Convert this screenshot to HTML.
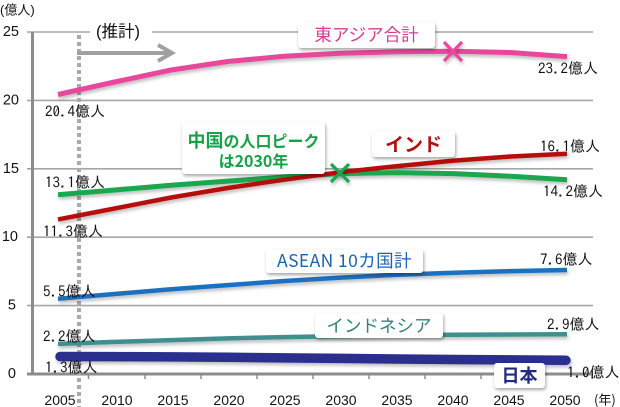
<!DOCTYPE html>
<html><head><meta charset="utf-8">
<style>
html,body{margin:0;padding:0;background:#fff;}
#c{position:relative;width:620px;height:407px;overflow:hidden;background:#fff;font-family:"Liberation Sans","Noto Sans CJK JP",sans-serif;}
svg{position:absolute;left:0;top:0;}
.box{position:absolute;background:#fff;border-radius:3px;box-shadow:1px 2px 3px rgba(0,0,0,0.35);font-family:"Noto Sans CJK JP",sans-serif;text-align:center;white-space:nowrap;}
</style></head><body>
<div id="c">
<svg width="620" height="407" viewBox="0 0 620 407">
<defs>
<filter id="sh" x="-10%" y="-50%" width="120%" height="200%">
<feDropShadow dx="1" dy="2.5" stdDeviation="1.5" flood-color="#000" flood-opacity="0.25"/>
</filter>
</defs>
<!-- gridlines -->
<g stroke="#a6a6a6" stroke-width="1.6">
<line x1="27" y1="32" x2="593" y2="32"/>
<line x1="27" y1="100.4" x2="593" y2="100.4"/>
<line x1="27" y1="168.8" x2="593" y2="168.8"/>
<line x1="27" y1="237.2" x2="593" y2="237.2"/>
<line x1="27" y1="305.6" x2="593" y2="305.6"/>
</g>
<!-- axes -->
<line x1="32.5" y1="32" x2="32.5" y2="375" stroke="#8c8c8c" stroke-width="3"/>
<line x1="27" y1="374" x2="593" y2="374" stroke="#8c8c8c" stroke-width="3"/>
<g stroke="#8c8c8c" stroke-width="1.5">
<line x1="88.5" y1="374" x2="88.5" y2="379"/>
<line x1="145" y1="374" x2="145" y2="379"/>
<line x1="201" y1="374" x2="201" y2="379"/>
<line x1="257" y1="374" x2="257" y2="379"/>
<line x1="313" y1="374" x2="313" y2="379"/>
<line x1="369" y1="374" x2="369" y2="379"/>
<line x1="425" y1="374" x2="425" y2="379"/>
<line x1="481" y1="374" x2="481" y2="379"/>
<line x1="537" y1="374" x2="537" y2="379"/>
<line x1="592" y1="374" x2="592" y2="379"/>
</g>
<!-- y labels -->
<g font-family="Liberation Sans, sans-serif" font-size="14.5" fill="#111" text-anchor="end" dominant-baseline="central">
<text x="19" y="32">25</text>
<text x="19" y="100.4">20</text>
<text x="19" y="168.8">15</text>
<text x="18" y="237.2">10</text>
<text x="16" y="305.6">5</text>
<text x="16" y="374">0</text>
</g>
<text x="0" y="10" font-family="Liberation Sans, Noto Sans CJK JP, sans-serif" font-size="13" fill="#111" dominant-baseline="central">(億人)</text>
<!-- x labels -->
<g font-family="Liberation Sans, sans-serif" font-size="14" fill="#111" text-anchor="middle" dominant-baseline="central">
<text x="60" y="400">2005</text>
<text x="117" y="400">2010</text>
<text x="173" y="400">2015</text>
<text x="229" y="400">2020</text>
<text x="285" y="400">2025</text>
<text x="341" y="400">2030</text>
<text x="397" y="400">2035</text>
<text x="453" y="400">2040</text>
<text x="509" y="400">2045</text>
<text x="565" y="400">2050</text>
</g>
<text x="594" y="399" font-family="Noto Sans CJK JP, sans-serif" font-size="13" fill="#111" dominant-baseline="central">(年)</text>
<!-- estimate label -->
<rect x="90" y="22" width="62" height="20" fill="#fff"/>
<text x="96" y="32" font-family="Liberation Sans, Noto Sans CJK JP, sans-serif" font-size="16.5" fill="#111" dominant-baseline="central">(推計)</text>
<!-- dotted vertical -->
<line x1="79" y1="35" x2="79" y2="407" stroke="#aaaaaa" stroke-width="4" stroke-dasharray="4 3"/>
<!-- arrow -->
<g stroke="#a0a0a0" stroke-width="4" fill="none" stroke-linecap="butt">
<line x1="77" y1="53" x2="172" y2="53"/>
<polyline points="158,45 172,53 158,61" stroke-linejoin="miter"/>
</g>
<!-- series -->
<g fill="none" stroke-linejoin="round" filter="url(#sh)">
<polyline stroke="#2b2e8c" stroke-width="9.5" stroke-linecap="round" points="60,356.5 114.6,356.6 171.1,356.9 227.7,357.3 284.2,357.9 340.8,358.4 397.3,359.0 453.9,359.5 510.4,359.9 566,360.3"/>
<polyline stroke="#3f8f8e" stroke-width="4.5" points="58,343.9 114.6,341.9 171.1,340.1 227.7,338.4 284.2,337.1 340.8,336.1 397.3,335.3 453.9,334.7 510.4,334.5 567,334.3"/>
<polyline stroke="#1c6fbf" stroke-width="4.5" points="58,298.8 114.6,294.0 171.1,289.2 227.7,285.1 284.2,281.0 340.8,277.6 397.3,274.8 453.9,272.8 510.4,271.1 567,270.0"/>
<polyline stroke="#1aa64e" stroke-width="5" points="58,194.8 114.6,190.0 171.1,185.2 227.7,181.1 284.2,177.0 340.8,173.6 397.3,172.6 453.9,173.6 510.4,176.3 567,179.7"/>
<polyline stroke="#b80f10" stroke-width="4.5" points="58,219.4 114.6,208.5 171.1,197.5 227.7,188.0 284.2,179.7 340.8,172.2 397.3,166.1 453.9,160.6 510.4,156.5 567,153.8"/>
<polyline stroke="#e8479b" stroke-width="5" points="58,94.5 114.6,82.0 171.1,70.0 227.7,61.5 284.2,56.2 340.8,53.2 397.3,51.8 453.9,51.2 510.4,52.5 567,56.6"/>
</g>
<!-- markers -->
<g stroke-width="3.2" filter="url(#sh)">
<g stroke="#e8479b"><line x1="444" y1="42" x2="462" y2="61"/><line x1="462" y1="42" x2="444" y2="61"/></g>
<g stroke="#1aa64e"><line x1="331" y1="164" x2="349" y2="182"/><line x1="349" y1="164" x2="331" y2="182"/></g>
</g>
<!-- data labels -->
<g font-family="IPAGothic, Noto Sans CJK JP, sans-serif" font-size="15" fill="#111" dominant-baseline="central">
<text x="45" y="111">20.4億人</text>
<text x="45" y="182">13.1億人</text>
<text x="43" y="231">11.3億人</text>
<text x="43" y="291">5.5億人</text>
<text x="43" y="336">2.2億人</text>
<text x="45" y="367">1.3億人</text>
<text x="538" y="68">23.2億人</text>
<text x="540" y="146">16.1億人</text>
<text x="543" y="191">14.2億人</text>
<text x="540" y="259">7.6億人</text>
<text x="547" y="324">2.9億人</text>
<text x="567" y="372">1.0億人</text>
</g>
</svg>
<!-- legend boxes -->
<div class="box" style="left:298px;top:22px;width:137px;height:26px;line-height:26px;font-size:17.5px;color:#d83d8f;">東アジア合計</div>
<div class="box" style="left:182px;top:122px;width:143px;height:52px;color:#17a24a;font-weight:bold;">
<div style="position:absolute;left:0;width:143px;top:8px;line-height:20px;font-size:16px;"><span style="font-size:18px;">中国</span>の人口ピーク</div>
<div style="position:absolute;left:0;width:143px;top:28px;line-height:20px;font-size:16px;">は2030年</div>
</div>
<div class="box" style="left:372px;top:131px;width:83px;height:26px;line-height:26px;font-size:19px;font-weight:bold;color:#b30f12;">インド</div>
<div class="box" style="left:266px;top:249px;width:157px;height:24px;line-height:24px;font-size:17.5px;color:#1b63ab;letter-spacing:0.4px;">ASEAN 10カ国計</div>
<div class="box" style="left:315px;top:313px;width:128px;height:25px;line-height:25px;font-size:17.5px;color:#33807e;">インドネシア</div>
<div class="box" style="left:494px;top:363px;width:51px;height:25px;line-height:25px;font-size:18px;font-weight:bold;color:#22287f;">日本</div>
</div>
</body></html>
